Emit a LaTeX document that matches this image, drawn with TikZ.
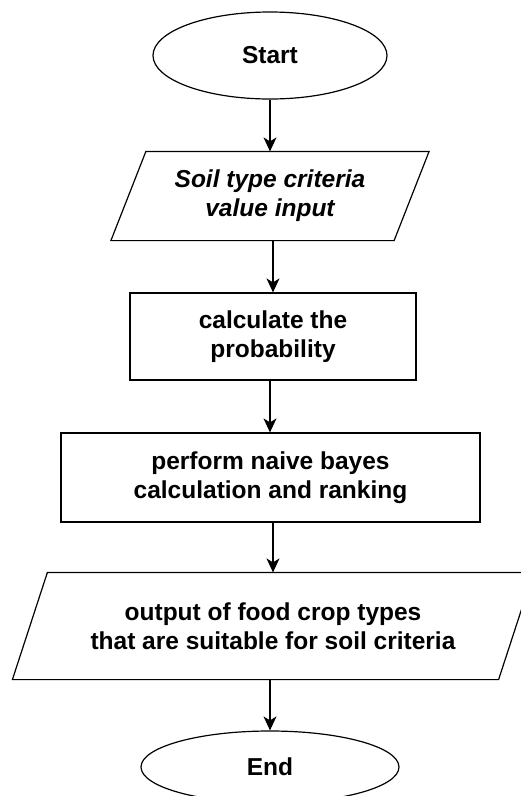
\documentclass[tikz,border=0pt]{standalone}
\usepackage{fontspec}
\setmainfont{Liberation Sans}
\usetikzlibrary{shapes.geometric, arrows.meta, positioning}

\begin{document}
\begin{tikzpicture}[
        x=1pt, y=-1pt,
        terminal/.style={draw, ellipse},
        process/.style={draw, rectangle, align=center},
        io/.style={rectangle, align=center},
        >={Stealth[length=14pt, width=13pt, inset=4pt]},
        line width=1.2pt,
        font=\bfseries\fontsize{24.5}{29}\selectfont
      ]

      \useasboundingbox (0,0) rectangle (521,796);

      % Start and end
      \node [terminal, minimum width=234pt, minimum height=87pt] (start) at (270,55.5) {Start};
      \node [terminal, minimum width=258pt, minimum height=72pt] (stop) at (270,767) {End};

      % Input
      \node [io, minimum width=282pt, minimum height=88pt] (input) at (270,196) {\itshape Soil type criteria\\\itshape value input};
      \draw ([xshift=17.5pt]input.north west) -- ([xshift=17.5pt]input.north east) -- ([xshift=-17.5pt]input.south east) -- ([xshift=-17.5pt]input.south west) -- cycle;

      % Processing
      \node [process, minimum width=286pt, minimum height=87pt] (prob) at (273,336.5) {calculate the\\probability};
      \node [process, minimum width=419pt, minimum height=89pt] (bayes) at (270.5,477.5) {perform naive bayes\\calculation and ranking};

      % Output
      \node [io, minimum width=485pt, minimum height=106pt] (output) at (273,626) {output of food crop types\\that are suitable for soil criteria};
      \draw ([xshift=17.5pt]output.north west) -- ([xshift=17.5pt]output.north east) -- ([xshift=-17.5pt]output.south east) -- ([xshift=-17.5pt]output.south west) -- cycle;

      % Flow
      \draw[->] (start.south) -- (input.north);
      \draw[->] (input.south -| prob.north) -- (prob.north);
      \draw[->] (prob.south -| start.south) -- (start.south |- bayes.north);
      \draw[->] (bayes.south -| output.north) -- (output.north);
      \draw[->] (output.south -| stop.north) -- (stop.north);

    \end{tikzpicture}
\end{document}
